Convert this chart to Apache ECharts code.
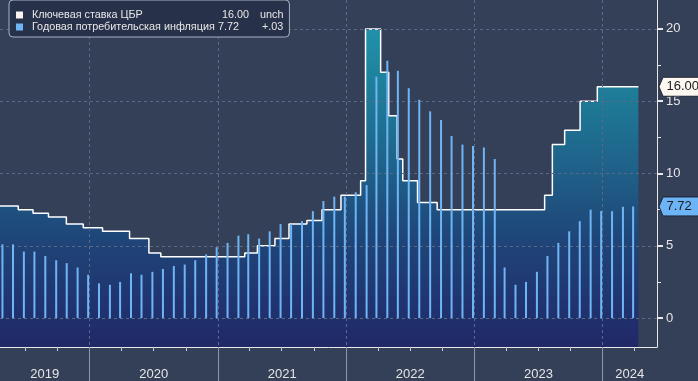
<!DOCTYPE html>
<html>
<head>
<meta charset="utf-8">
<script src="https://cdn.jsdelivr.net/npm/echarts@6/dist/echarts.min.js"></script>
<style>
html,body{margin:0;padding:0;background:#343f58;}
#chart{width:698px;height:381px;}
</style>
</head>
<body>
<div id="chart"></div>
<script>
// ---- DATA ----
const seriesNames = ['Ключевая ставка ЦБР', 'Годовая потребительская инфляция'];
const legendValues = ['16.00', '7.72'];
const legendChanges = ['unch', '+.03'];
const tagValues = [16.00, 7.72];

// Key rate: effective dates (as drawn) and levels
const rateDates = ['2019-04-01','2019-06-12','2019-07-24','2019-09-06','2019-10-27','2019-12-14','2020-02-07','2020-04-24','2020-06-18','2020-07-22',
  '2021-03-18','2021-04-23','2021-06-12','2021-07-22','2021-09-11','2021-10-24','2021-12-17',
  '2022-02-11','2022-02-25','2022-04-09','2022-05-02','2022-05-26','2022-06-11','2022-07-23','2022-09-17',
  '2023-07-20','2023-08-11','2023-09-15','2023-10-29','2023-12-17','2024-04-12'];
const rateValues = [7.75,7.5,7.25,7.0,6.5,6.25,6.0,5.5,4.5,4.25,
  4.5,5.0,5.5,6.5,6.75,7.5,8.5,
  9.5,20,17,14,11,9.5,8,7.5,
  8.5,12,13,15,16,16];

// Annual CPI inflation, monthly (Apr 2019 .. Mar 2024)
const inflStartYear = 2019, inflStartMonth = 4;
const inflValues = [
  5.1,5.1,4.6,4.6,4.3,4.0,3.8,3.5,3.0,
  2.4,2.3,2.5,3.1,3.0,3.2,3.4,3.6,3.7,4.0,4.4,4.9,
  5.2,5.7,5.8,5.5,6.0,6.5,6.5,6.7,7.4,8.1,8.4,8.4,
  8.7,9.2,16.7,17.8,17.1,15.9,15.1,14.3,13.7,12.6,12.0,11.9,
  11.8,11.0,3.5,2.3,2.5,3.2,4.3,5.2,6.0,6.7,7.5,7.4,
  7.4,7.7,7.72];

const yearLabels = [2019, 2020, 2021, 2022, 2023, 2024];
const xMinDate = '2019-04-21', xMaxDate = '2024-06-04';
const yTickValues = [0, 5, 10, 15, 20];
const yMinorValues = [2.5, 7.5, 12.5, 17.5];

// ---- helpers ----
function ts(s){ const p = s.split('-').map(Number); return Date.UTC(p[0], p[1]-1, p[2]); }
const xMin = ts(xMinDate), xMax = ts(xMaxDate);

const rateData = rateDates.map((d,i)=>[ts(d), rateValues[i]]);
const inflData = inflValues.map((v,i)=>{
  const m = inflStartMonth - 1 + i;
  return [Date.UTC(inflStartYear + Math.floor(m/12), m%12, 28), v];
});
const yearStarts = yearLabels.map(y=>Date.UTC(y,0,1)).filter(t=>t>xMin && t<xMax);
const yearMids = yearLabels.map(y=>{
  const a = Math.max(Date.UTC(y,0,1), xMin), b = Math.min(Date.UTC(y+1,0,1), xMax);
  return (a+b)/2;
});
const quarterTicks = [];
for (let y=2019; y<=2024; y++) for (let q=0;q<4;q++){ const t=Date.UTC(y,q*3,1); if(t>xMin && t<xMax) quarterTicks.push(t); }

const FONT = 'Liberation Sans';
const LFS = 10.8;
const chart = echarts.init(document.getElementById('chart'), null, {renderer:'canvas'});

const areaGrad = new echarts.graphic.LinearGradient(0, 0, 0, 347, [
  {offset: 0.00, color: '#2399b1'},
  {offset: 0.08, color: '#2192ab'},
  {offset: 0.25, color: '#1e7f9a'},
  {offset: 0.50, color: '#1f5f88'},
  {offset: 0.60, color: '#1f517f'},
  {offset: 0.71, color: '#1f4377'},
  {offset: 0.92, color: '#20306d'},
  {offset: 1.00, color: '#212866'}
], true);

chart.setOption({
  backgroundColor: '#343f58',
  animation: false,
  grid: {left: 0, right: 41, top: 0, bottom: 34, containLabel: false, outerBoundsMode: 'none'},
  legend: {
    left: 9, top: 0,
    orient: 'vertical',
    selectedMode: false,
    icon: 'rect', itemWidth: 7, itemHeight: 7, itemGap: 0,
    padding: [9, 6, 4, 7],
    backgroundColor: '#28314a',
    borderColor: '#aab1bf', borderWidth: 1, borderRadius: 4,
    data: seriesNames,
    formatter: function(name){
      const i = seriesNames.indexOf(name);
      return '{n|' + name + '}{v' + i + '|' + legendValues[i] + '}{c' + i + '|' + legendChanges[i] + '}';
    },
    textStyle: {
      color: '#e8e8e8', fontFamily: FONT, fontSize: LFS, lineHeight: 12,
      rich: {
        n: {width: 186, padding: [0,0,0,4], fontFamily: FONT, fontSize: LFS, color: '#e8e8e8'},
        v0: {width: 38, padding: [0,0,0,4], fontFamily: FONT, fontSize: LFS, color: '#e8e8e8'},
        v1: {width: 42, fontFamily: FONT, fontSize: LFS, color: '#e8e8e8'},
        c0: {fontFamily: FONT, fontSize: LFS, color: '#e8e8e8'},
        c1: {padding: [0,0,0,2], fontFamily: FONT, fontSize: LFS, color: '#e8e8e8'}
      }
    }
  },
  xAxis: [
    {
      type: 'value', min: xMin, max: xMax, position: 'bottom', z: 2,
      axisLine: {show: true, onZero: false, lineStyle: {color: '#e8e8e8', width: 1}},
      axisTick: {show: true, length: 4, customValues: quarterTicks, lineStyle: {color: '#c8ccd4'}},
      axisLabel: {show: true, customValues: yearMids, margin: 21, color: '#e6e6e6', fontFamily: FONT, fontSize: 13,
        formatter: function(v){ return String(new Date(v).getUTCFullYear()); }},
      splitLine: {show: false}
    },
    {
      type: 'value', min: xMin, max: xMax, position: 'bottom', z: 2,
      axisLine: {show: false, onZero: false},
      axisTick: {show: true, length: 34, customValues: yearStarts, lineStyle: {color: '#8f97a8'}},
      axisLabel: {show: false},
      splitLine: {show: true, lineStyle: {color: '#5c6884', type: [3,3], width: 1}}
    }
  ],
  yAxis: [
    {
      type: 'value', min: -2, max: 22, position: 'right', z: 2,
      axisLine: {show: true, onZero: false, lineStyle: {color: '#e8e8e8', width: 1}},
      axisTick: {show: true, length: 6, customValues: yTickValues, lineStyle: {color: '#e8e8e8', width: 2}},
      axisLabel: {show: true, customValues: yTickValues, margin: 9, color: '#e6e6e6', fontFamily: FONT, fontSize: 13},
      splitLine: {show: true, lineStyle: {color: '#5c6884', type: [3,3], width: 1}}
    },
    {
      type: 'value', min: -2, max: 22, position: 'right', z: 2,
      axisLine: {show: false, onZero: false},
      axisTick: {show: true, length: 4, customValues: yMinorValues, lineStyle: {color: '#e8e8e8'}},
      axisLabel: {show: false},
      splitLine: {show: false}
    }
  ],
  series: [
    {
      name: seriesNames[0], type: 'line', step: 'end', data: rateData,
      xAxisIndex: 0, yAxisIndex: 0,
      symbol: 'none', showSymbol: false, clip: true, z: 1,
      color: '#fbf3ef',
      lineStyle: {color: '#ffffff', width: 1.5},
      areaStyle: {origin: 'start', color: areaGrad, opacity: 1}
    },
    {
      name: seriesNames[1], type: 'bar', data: inflData,
      xAxisIndex: 0, yAxisIndex: 0,
      barWidth: 2, z: 3,
      color: '#6fb5f5',
      itemStyle: {color: '#6fb5f5'}
    }
  ]
});

// value tags at the right axis, placed via the axis scales
const axisX = chart.convertToPixel({xAxisIndex: 0}, xMax);
const tagFills = ['#fdf7f2', '#6cb4f5'];
const g = [];
tagValues.forEach((v, i) => {
  const y = chart.convertToPixel({yAxisIndex: 0}, v);
  const h = 9.5, x0 = axisX + 2, x1 = axisX + 6;
  g.push({type: 'polygon', z: 100, shape: {points: [[x0, y], [x1, y-h], [x1+60, y-h], [x1+60, y+h], [x1, y+h]]},
    style: {fill: tagFills[i], stroke: '#1e2433', lineWidth: 1}});
  g.push({type: 'text', z: 101, x: axisX + 9.5, y: y,
    style: {text: legendValues[i], fill: '#1b1b1b', font: '13px "' + FONT + '"', verticalAlign: 'middle', align: 'left'}});
});
chart.setOption({graphic: g});
</script>
</body>
</html>
